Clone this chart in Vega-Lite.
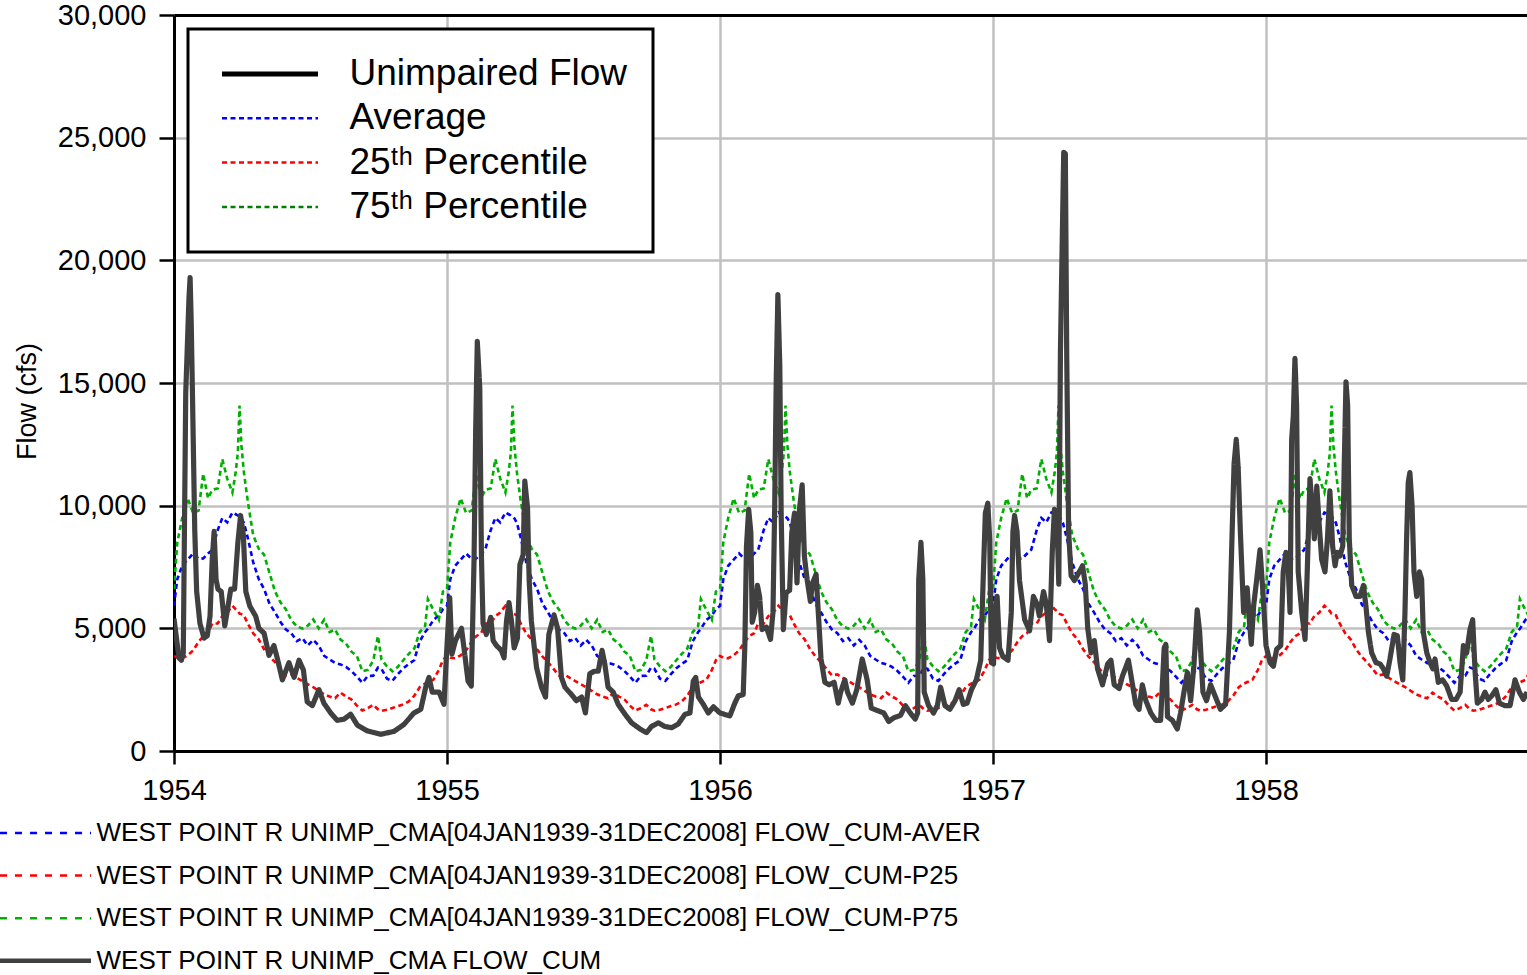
{
"$schema": "https://vega.github.io/schema/vega-lite/v6.json",
"width": 1353,
"height": 736,
"autosize": {"type": "none"},
"padding": {"left": 174, "top": 15, "right": 0, "bottom": 224},
"background": "white",
"config": {"font": "Liberation Sans", "view": {"stroke": null}},
"datasets": {
"stats": [
{"t":1954.000,"AVER":5920,"P25":3880,"P75":6600},{"t":1954.012,"AVER":7000,"P25":3800,"P75":8500},{"t":1954.030,"AVER":7550,"P25":3780,"P75":9500},{"t":1954.050,"AVER":7800,"P25":3900,"P75":10300},{"t":1954.070,"AVER":8050,"P25":4100,"P75":9700},{"t":1954.090,"AVER":7830,"P25":4450,"P75":9800},{"t":1954.107,"AVER":7850,"P25":4680,"P75":11300},{"t":1954.125,"AVER":8050,"P25":4800,"P75":10300},{"t":1954.140,"AVER":8200,"P25":5200,"P75":10650},{"t":1954.160,"AVER":9000,"P25":5200,"P75":10700},{"t":1954.177,"AVER":9500,"P25":5500,"P75":11900},{"t":1954.195,"AVER":9320,"P25":5640,"P75":11100},{"t":1954.214,"AVER":9720,"P25":5920,"P75":10540},{"t":1954.226,"AVER":9650,"P25":5780,"P75":11360},{"t":1954.234,"AVER":9600,"P25":5700,"P75":12170},{"t":1954.240,"AVER":9550,"P25":5600,"P75":14080},{"t":1954.247,"AVER":9480,"P25":5580,"P75":12440},{"t":1954.256,"AVER":9300,"P25":5530,"P75":11360},{"t":1954.270,"AVER":8700,"P25":5200,"P75":10200},{"t":1954.290,"AVER":7700,"P25":4800,"P75":8800},{"t":1954.310,"AVER":7020,"P25":4550,"P75":8250},{"t":1954.330,"AVER":6600,"P25":4150,"P75":8000},{"t":1954.350,"AVER":6000,"P25":3850,"P75":7250},{"t":1954.370,"AVER":5650,"P25":3620,"P75":6500},{"t":1954.390,"AVER":5260,"P25":3350,"P75":6060},{"t":1954.410,"AVER":4950,"P25":3080,"P75":5770},{"t":1954.430,"AVER":4800,"P25":3120,"P75":5330},{"t":1954.450,"AVER":4480,"P25":2980,"P75":5080},{"t":1954.470,"AVER":4600,"P25":2850,"P75":4990},{"t":1954.490,"AVER":4300,"P25":2720,"P75":5110},{"t":1954.510,"AVER":4530,"P25":2600,"P75":5360},{"t":1954.530,"AVER":4300,"P25":2450,"P75":5000},{"t":1954.550,"AVER":3880,"P25":2310,"P75":5350},{"t":1954.570,"AVER":3730,"P25":2220,"P75":4850},{"t":1954.590,"AVER":3590,"P25":2150,"P75":4950},{"t":1954.610,"AVER":3530,"P25":2380,"P75":4540},{"t":1954.630,"AVER":3430,"P25":2220,"P75":4380},{"t":1954.650,"AVER":3260,"P25":2100,"P75":4050},{"t":1954.670,"AVER":3030,"P25":1850,"P75":3870},{"t":1954.690,"AVER":2780,"P25":1650,"P75":3250},{"t":1954.710,"AVER":3060,"P25":1750,"P75":3310},{"t":1954.730,"AVER":3070,"P25":1880,"P75":3690},{"t":1954.747,"AVER":3400,"P25":1700,"P75":4690},{"t":1954.760,"AVER":3350,"P25":1640,"P75":3730},{"t":1954.780,"AVER":2950,"P25":1680,"P75":3450},{"t":1954.800,"AVER":2860,"P25":1750,"P75":3250},{"t":1954.820,"AVER":3130,"P25":1830,"P75":3430},{"t":1954.840,"AVER":3370,"P25":1900,"P75":3700},{"t":1954.860,"AVER":3550,"P25":2020,"P75":3960},{"t":1954.880,"AVER":3700,"P25":2250,"P75":4170},{"t":1954.900,"AVER":4470,"P25":2600,"P75":4850},{"t":1954.920,"AVER":4850,"P25":2750,"P75":5100},{"t":1954.930,"AVER":4980,"P25":2800,"P75":6190},{"t":1954.950,"AVER":5340,"P25":2900,"P75":5750},{"t":1954.970,"AVER":5520,"P25":3300,"P75":5350},{"t":1954.985,"AVER":5780,"P25":3700,"P75":6500},
{"t":1955.000,"AVER":5920,"P25":3880,"P75":6600},{"t":1955.012,"AVER":7000,"P25":3800,"P75":8500},{"t":1955.030,"AVER":7550,"P25":3780,"P75":9500},{"t":1955.050,"AVER":7800,"P25":3900,"P75":10300},{"t":1955.070,"AVER":8050,"P25":4100,"P75":9700},{"t":1955.090,"AVER":7830,"P25":4450,"P75":9800},{"t":1955.107,"AVER":7850,"P25":4680,"P75":11300},{"t":1955.125,"AVER":8050,"P25":4800,"P75":10300},{"t":1955.140,"AVER":8200,"P25":5200,"P75":10650},{"t":1955.160,"AVER":9000,"P25":5200,"P75":10700},{"t":1955.177,"AVER":9500,"P25":5500,"P75":11900},{"t":1955.195,"AVER":9320,"P25":5640,"P75":11100},{"t":1955.214,"AVER":9720,"P25":5920,"P75":10540},{"t":1955.226,"AVER":9650,"P25":5780,"P75":11360},{"t":1955.234,"AVER":9600,"P25":5700,"P75":12170},{"t":1955.240,"AVER":9550,"P25":5600,"P75":14080},{"t":1955.247,"AVER":9480,"P25":5580,"P75":12440},{"t":1955.256,"AVER":9300,"P25":5530,"P75":11360},{"t":1955.270,"AVER":8700,"P25":5200,"P75":10200},{"t":1955.290,"AVER":7700,"P25":4800,"P75":8800},{"t":1955.310,"AVER":7020,"P25":4550,"P75":8250},{"t":1955.330,"AVER":6600,"P25":4150,"P75":8000},{"t":1955.350,"AVER":6000,"P25":3850,"P75":7250},{"t":1955.370,"AVER":5650,"P25":3620,"P75":6500},{"t":1955.390,"AVER":5260,"P25":3350,"P75":6060},{"t":1955.410,"AVER":4950,"P25":3080,"P75":5770},{"t":1955.430,"AVER":4800,"P25":3120,"P75":5330},{"t":1955.450,"AVER":4480,"P25":2980,"P75":5080},{"t":1955.470,"AVER":4600,"P25":2850,"P75":4990},{"t":1955.490,"AVER":4300,"P25":2720,"P75":5110},{"t":1955.510,"AVER":4530,"P25":2600,"P75":5360},{"t":1955.530,"AVER":4300,"P25":2450,"P75":5000},{"t":1955.550,"AVER":3880,"P25":2310,"P75":5350},{"t":1955.570,"AVER":3730,"P25":2220,"P75":4850},{"t":1955.590,"AVER":3590,"P25":2150,"P75":4950},{"t":1955.610,"AVER":3530,"P25":2380,"P75":4540},{"t":1955.630,"AVER":3430,"P25":2220,"P75":4380},{"t":1955.650,"AVER":3260,"P25":2100,"P75":4050},{"t":1955.670,"AVER":3030,"P25":1850,"P75":3870},{"t":1955.690,"AVER":2780,"P25":1650,"P75":3250},{"t":1955.710,"AVER":3060,"P25":1750,"P75":3310},{"t":1955.730,"AVER":3070,"P25":1880,"P75":3690},{"t":1955.747,"AVER":3400,"P25":1700,"P75":4690},{"t":1955.760,"AVER":3350,"P25":1640,"P75":3730},{"t":1955.780,"AVER":2950,"P25":1680,"P75":3450},{"t":1955.800,"AVER":2860,"P25":1750,"P75":3250},{"t":1955.820,"AVER":3130,"P25":1830,"P75":3430},{"t":1955.840,"AVER":3370,"P25":1900,"P75":3700},{"t":1955.860,"AVER":3550,"P25":2020,"P75":3960},{"t":1955.880,"AVER":3700,"P25":2250,"P75":4170},{"t":1955.900,"AVER":4470,"P25":2600,"P75":4850},{"t":1955.920,"AVER":4850,"P25":2750,"P75":5100},{"t":1955.930,"AVER":4980,"P25":2800,"P75":6190},{"t":1955.950,"AVER":5340,"P25":2900,"P75":5750},{"t":1955.970,"AVER":5520,"P25":3300,"P75":5350},{"t":1955.985,"AVER":5780,"P25":3700,"P75":6500},
{"t":1956.000,"AVER":5920,"P25":3880,"P75":6600},{"t":1956.012,"AVER":7000,"P25":3800,"P75":8500},{"t":1956.030,"AVER":7550,"P25":3780,"P75":9500},{"t":1956.050,"AVER":7800,"P25":3900,"P75":10300},{"t":1956.070,"AVER":8050,"P25":4100,"P75":9700},{"t":1956.090,"AVER":7830,"P25":4450,"P75":9800},{"t":1956.107,"AVER":7850,"P25":4680,"P75":11300},{"t":1956.125,"AVER":8050,"P25":4800,"P75":10300},{"t":1956.140,"AVER":8200,"P25":5200,"P75":10650},{"t":1956.160,"AVER":9000,"P25":5200,"P75":10700},{"t":1956.177,"AVER":9500,"P25":5500,"P75":11900},{"t":1956.195,"AVER":9320,"P25":5640,"P75":11100},{"t":1956.214,"AVER":9720,"P25":5920,"P75":10540},{"t":1956.226,"AVER":9650,"P25":5780,"P75":11360},{"t":1956.234,"AVER":9600,"P25":5700,"P75":12170},{"t":1956.240,"AVER":9550,"P25":5600,"P75":14080},{"t":1956.247,"AVER":9480,"P25":5580,"P75":12440},{"t":1956.256,"AVER":9300,"P25":5530,"P75":11360},{"t":1956.270,"AVER":8700,"P25":5200,"P75":10200},{"t":1956.290,"AVER":7700,"P25":4800,"P75":8800},{"t":1956.310,"AVER":7020,"P25":4550,"P75":8250},{"t":1956.330,"AVER":6600,"P25":4150,"P75":8000},{"t":1956.350,"AVER":6000,"P25":3850,"P75":7250},{"t":1956.370,"AVER":5650,"P25":3620,"P75":6500},{"t":1956.390,"AVER":5260,"P25":3350,"P75":6060},{"t":1956.410,"AVER":4950,"P25":3080,"P75":5770},{"t":1956.430,"AVER":4800,"P25":3120,"P75":5330},{"t":1956.450,"AVER":4480,"P25":2980,"P75":5080},{"t":1956.470,"AVER":4600,"P25":2850,"P75":4990},{"t":1956.490,"AVER":4300,"P25":2720,"P75":5110},{"t":1956.510,"AVER":4530,"P25":2600,"P75":5360},{"t":1956.530,"AVER":4300,"P25":2450,"P75":5000},{"t":1956.550,"AVER":3880,"P25":2310,"P75":5350},{"t":1956.570,"AVER":3730,"P25":2220,"P75":4850},{"t":1956.590,"AVER":3590,"P25":2150,"P75":4950},{"t":1956.610,"AVER":3530,"P25":2380,"P75":4540},{"t":1956.630,"AVER":3430,"P25":2220,"P75":4380},{"t":1956.650,"AVER":3260,"P25":2100,"P75":4050},{"t":1956.670,"AVER":3030,"P25":1850,"P75":3870},{"t":1956.690,"AVER":2780,"P25":1650,"P75":3250},{"t":1956.710,"AVER":3060,"P25":1750,"P75":3310},{"t":1956.730,"AVER":3070,"P25":1880,"P75":3690},{"t":1956.747,"AVER":3400,"P25":1700,"P75":4690},{"t":1956.760,"AVER":3350,"P25":1640,"P75":3730},{"t":1956.780,"AVER":2950,"P25":1680,"P75":3450},{"t":1956.800,"AVER":2860,"P25":1750,"P75":3250},{"t":1956.820,"AVER":3130,"P25":1830,"P75":3430},{"t":1956.840,"AVER":3370,"P25":1900,"P75":3700},{"t":1956.860,"AVER":3550,"P25":2020,"P75":3960},{"t":1956.880,"AVER":3700,"P25":2250,"P75":4170},{"t":1956.900,"AVER":4470,"P25":2600,"P75":4850},{"t":1956.920,"AVER":4850,"P25":2750,"P75":5100},{"t":1956.930,"AVER":4980,"P25":2800,"P75":6190},{"t":1956.950,"AVER":5340,"P25":2900,"P75":5750},{"t":1956.970,"AVER":5520,"P25":3300,"P75":5350},{"t":1956.985,"AVER":5780,"P25":3700,"P75":6500},
{"t":1957.000,"AVER":5920,"P25":3880,"P75":6600},{"t":1957.012,"AVER":7000,"P25":3800,"P75":8500},{"t":1957.030,"AVER":7550,"P25":3780,"P75":9500},{"t":1957.050,"AVER":7800,"P25":3900,"P75":10300},{"t":1957.070,"AVER":8050,"P25":4100,"P75":9700},{"t":1957.090,"AVER":7830,"P25":4450,"P75":9800},{"t":1957.107,"AVER":7850,"P25":4680,"P75":11300},{"t":1957.125,"AVER":8050,"P25":4800,"P75":10300},{"t":1957.140,"AVER":8200,"P25":5200,"P75":10650},{"t":1957.160,"AVER":9000,"P25":5200,"P75":10700},{"t":1957.177,"AVER":9500,"P25":5500,"P75":11900},{"t":1957.195,"AVER":9320,"P25":5640,"P75":11100},{"t":1957.214,"AVER":9720,"P25":5920,"P75":10540},{"t":1957.226,"AVER":9650,"P25":5780,"P75":11360},{"t":1957.234,"AVER":9600,"P25":5700,"P75":12170},{"t":1957.240,"AVER":9550,"P25":5600,"P75":14080},{"t":1957.247,"AVER":9480,"P25":5580,"P75":12440},{"t":1957.256,"AVER":9300,"P25":5530,"P75":11360},{"t":1957.270,"AVER":8700,"P25":5200,"P75":10200},{"t":1957.290,"AVER":7700,"P25":4800,"P75":8800},{"t":1957.310,"AVER":7020,"P25":4550,"P75":8250},{"t":1957.330,"AVER":6600,"P25":4150,"P75":8000},{"t":1957.350,"AVER":6000,"P25":3850,"P75":7250},{"t":1957.370,"AVER":5650,"P25":3620,"P75":6500},{"t":1957.390,"AVER":5260,"P25":3350,"P75":6060},{"t":1957.410,"AVER":4950,"P25":3080,"P75":5770},{"t":1957.430,"AVER":4800,"P25":3120,"P75":5330},{"t":1957.450,"AVER":4480,"P25":2980,"P75":5080},{"t":1957.470,"AVER":4600,"P25":2850,"P75":4990},{"t":1957.490,"AVER":4300,"P25":2720,"P75":5110},{"t":1957.510,"AVER":4530,"P25":2600,"P75":5360},{"t":1957.530,"AVER":4300,"P25":2450,"P75":5000},{"t":1957.550,"AVER":3880,"P25":2310,"P75":5350},{"t":1957.570,"AVER":3730,"P25":2220,"P75":4850},{"t":1957.590,"AVER":3590,"P25":2150,"P75":4950},{"t":1957.610,"AVER":3530,"P25":2380,"P75":4540},{"t":1957.630,"AVER":3430,"P25":2220,"P75":4380},{"t":1957.650,"AVER":3260,"P25":2100,"P75":4050},{"t":1957.670,"AVER":3030,"P25":1850,"P75":3870},{"t":1957.690,"AVER":2780,"P25":1650,"P75":3250},{"t":1957.710,"AVER":3060,"P25":1750,"P75":3310},{"t":1957.730,"AVER":3070,"P25":1880,"P75":3690},{"t":1957.747,"AVER":3400,"P25":1700,"P75":4690},{"t":1957.760,"AVER":3350,"P25":1640,"P75":3730},{"t":1957.780,"AVER":2950,"P25":1680,"P75":3450},{"t":1957.800,"AVER":2860,"P25":1750,"P75":3250},{"t":1957.820,"AVER":3130,"P25":1830,"P75":3430},{"t":1957.840,"AVER":3370,"P25":1900,"P75":3700},{"t":1957.860,"AVER":3550,"P25":2020,"P75":3960},{"t":1957.880,"AVER":3700,"P25":2250,"P75":4170},{"t":1957.900,"AVER":4470,"P25":2600,"P75":4850},{"t":1957.920,"AVER":4850,"P25":2750,"P75":5100},{"t":1957.930,"AVER":4980,"P25":2800,"P75":6190},{"t":1957.950,"AVER":5340,"P25":2900,"P75":5750},{"t":1957.970,"AVER":5520,"P25":3300,"P75":5350},{"t":1957.985,"AVER":5780,"P25":3700,"P75":6500},
{"t":1958.000,"AVER":5920,"P25":3880,"P75":6600},{"t":1958.012,"AVER":7000,"P25":3800,"P75":8500},{"t":1958.030,"AVER":7550,"P25":3780,"P75":9500},{"t":1958.050,"AVER":7800,"P25":3900,"P75":10300},{"t":1958.070,"AVER":8050,"P25":4100,"P75":9700},{"t":1958.090,"AVER":7830,"P25":4450,"P75":9800},{"t":1958.107,"AVER":7850,"P25":4680,"P75":11300},{"t":1958.125,"AVER":8050,"P25":4800,"P75":10300},{"t":1958.140,"AVER":8200,"P25":5200,"P75":10650},{"t":1958.160,"AVER":9000,"P25":5200,"P75":10700},{"t":1958.177,"AVER":9500,"P25":5500,"P75":11900},{"t":1958.195,"AVER":9320,"P25":5640,"P75":11100},{"t":1958.214,"AVER":9720,"P25":5920,"P75":10540},{"t":1958.226,"AVER":9650,"P25":5780,"P75":11360},{"t":1958.234,"AVER":9600,"P25":5700,"P75":12170},{"t":1958.240,"AVER":9550,"P25":5600,"P75":14080},{"t":1958.247,"AVER":9480,"P25":5580,"P75":12440},{"t":1958.256,"AVER":9300,"P25":5530,"P75":11360},{"t":1958.270,"AVER":8700,"P25":5200,"P75":10200},{"t":1958.290,"AVER":7700,"P25":4800,"P75":8800},{"t":1958.310,"AVER":7020,"P25":4550,"P75":8250},{"t":1958.330,"AVER":6600,"P25":4150,"P75":8000},{"t":1958.350,"AVER":6000,"P25":3850,"P75":7250},{"t":1958.370,"AVER":5650,"P25":3620,"P75":6500},{"t":1958.390,"AVER":5260,"P25":3350,"P75":6060},{"t":1958.410,"AVER":4950,"P25":3080,"P75":5770},{"t":1958.430,"AVER":4800,"P25":3120,"P75":5330},{"t":1958.450,"AVER":4480,"P25":2980,"P75":5080},{"t":1958.470,"AVER":4600,"P25":2850,"P75":4990},{"t":1958.490,"AVER":4300,"P25":2720,"P75":5110},{"t":1958.510,"AVER":4530,"P25":2600,"P75":5360},{"t":1958.530,"AVER":4300,"P25":2450,"P75":5000},{"t":1958.550,"AVER":3880,"P25":2310,"P75":5350},{"t":1958.570,"AVER":3730,"P25":2220,"P75":4850},{"t":1958.590,"AVER":3590,"P25":2150,"P75":4950},{"t":1958.610,"AVER":3530,"P25":2380,"P75":4540},{"t":1958.630,"AVER":3430,"P25":2220,"P75":4380},{"t":1958.650,"AVER":3260,"P25":2100,"P75":4050},{"t":1958.670,"AVER":3030,"P25":1850,"P75":3870},{"t":1958.690,"AVER":2780,"P25":1650,"P75":3250},{"t":1958.710,"AVER":3060,"P25":1750,"P75":3310},{"t":1958.730,"AVER":3070,"P25":1880,"P75":3690},{"t":1958.747,"AVER":3400,"P25":1700,"P75":4690},{"t":1958.760,"AVER":3350,"P25":1640,"P75":3730},{"t":1958.780,"AVER":2950,"P25":1680,"P75":3450},{"t":1958.800,"AVER":2860,"P25":1750,"P75":3250},{"t":1958.820,"AVER":3130,"P25":1830,"P75":3430},{"t":1958.840,"AVER":3370,"P25":1900,"P75":3700},{"t":1958.860,"AVER":3550,"P25":2020,"P75":3960},{"t":1958.880,"AVER":3700,"P25":2250,"P75":4170},{"t":1958.900,"AVER":4470,"P25":2600,"P75":4850},{"t":1958.920,"AVER":4850,"P25":2750,"P75":5100},{"t":1958.930,"AVER":4980,"P25":2800,"P75":6190},{"t":1958.950,"AVER":5340,"P25":2900,"P75":5750},{"t":1958.970,"AVER":5520,"P25":3300,"P75":5350}
],
"flow": [
{"t":1954.000,"FLOW":5400},{"t":1954.018,"FLOW":3800},{"t":1954.027,"FLOW":3700},{"t":1954.034,"FLOW":4000},{"t":1954.043,"FLOW":14600},{"t":1954.055,"FLOW":18500},{"t":1954.059,"FLOW":19300},{"t":1954.063,"FLOW":17500},{"t":1954.068,"FLOW":14300},{"t":1954.076,"FLOW":9000},{"t":1954.083,"FLOW":6500},{"t":1954.095,"FLOW":5200},{"t":1954.110,"FLOW":4600},{"t":1954.122,"FLOW":4700},{"t":1954.132,"FLOW":5500},{"t":1954.140,"FLOW":7800},{"t":1954.147,"FLOW":8950},{"t":1954.154,"FLOW":7000},{"t":1954.161,"FLOW":6600},{"t":1954.173,"FLOW":6500},{"t":1954.186,"FLOW":5100},{"t":1954.195,"FLOW":5700},{"t":1954.208,"FLOW":6600},{"t":1954.222,"FLOW":6600},{"t":1954.234,"FLOW":8500},{"t":1954.244,"FLOW":9600},{"t":1954.254,"FLOW":8800},{"t":1954.263,"FLOW":6500},{"t":1954.278,"FLOW":5900},{"t":1954.299,"FLOW":5500},{"t":1954.311,"FLOW":5000},{"t":1954.330,"FLOW":4800},{"t":1954.348,"FLOW":3900},{"t":1954.366,"FLOW":4300},{"t":1954.379,"FLOW":3750},{"t":1954.397,"FLOW":2900},{"t":1954.421,"FLOW":3600},{"t":1954.440,"FLOW":3000},{"t":1954.458,"FLOW":3700},{"t":1954.474,"FLOW":3300},{"t":1954.488,"FLOW":2000},{"t":1954.507,"FLOW":1850},{"t":1954.531,"FLOW":2500},{"t":1954.549,"FLOW":1950},{"t":1954.574,"FLOW":1550},{"t":1954.598,"FLOW":1250},{"t":1954.623,"FLOW":1300},{"t":1954.647,"FLOW":1500},{"t":1954.672,"FLOW":1050},{"t":1954.708,"FLOW":820},{"t":1954.757,"FLOW":680},{"t":1954.806,"FLOW":800},{"t":1954.842,"FLOW":1080},{"t":1954.879,"FLOW":1550},{"t":1954.904,"FLOW":1700},{"t":1954.922,"FLOW":2600},{"t":1954.934,"FLOW":3000},{"t":1954.946,"FLOW":2400},{"t":1954.971,"FLOW":2400},{"t":1954.989,"FLOW":1900},
{"t":1954.998,"FLOW":3900},{"t":1955.010,"FLOW":6250},{"t":1955.018,"FLOW":3950},{"t":1955.031,"FLOW":4500},{"t":1955.053,"FLOW":5000},{"t":1955.065,"FLOW":3950},{"t":1955.077,"FLOW":2850},{"t":1955.089,"FLOW":2650},{"t":1955.099,"FLOW":7750},{"t":1955.105,"FLOW":13050},{"t":1955.111,"FLOW":16700},{"t":1955.120,"FLOW":14800},{"t":1955.126,"FLOW":8000},{"t":1955.132,"FLOW":5200},{"t":1955.144,"FLOW":4750},{"t":1955.160,"FLOW":5450},{"t":1955.169,"FLOW":4500},{"t":1955.181,"FLOW":4300},{"t":1955.199,"FLOW":4100},{"t":1955.209,"FLOW":3800},{"t":1955.218,"FLOW":5300},{"t":1955.227,"FLOW":6050},{"t":1955.236,"FLOW":5300},{"t":1955.246,"FLOW":4200},{"t":1955.258,"FLOW":4600},{"t":1955.267,"FLOW":7600},{"t":1955.279,"FLOW":8000},{"t":1955.285,"FLOW":11000},{"t":1955.295,"FLOW":9900},{"t":1955.301,"FLOW":6950},{"t":1955.309,"FLOW":5300},{"t":1955.328,"FLOW":3400},{"t":1955.346,"FLOW":2600},{"t":1955.361,"FLOW":2200},{"t":1955.373,"FLOW":4750},{"t":1955.392,"FLOW":5550},{"t":1955.405,"FLOW":5000},{"t":1955.419,"FLOW":3000},{"t":1955.432,"FLOW":2600},{"t":1955.456,"FLOW":2300},{"t":1955.474,"FLOW":2050},{"t":1955.493,"FLOW":2200},{"t":1955.507,"FLOW":1550},{"t":1955.523,"FLOW":3150},{"t":1955.539,"FLOW":3250},{"t":1955.554,"FLOW":3250},{"t":1955.568,"FLOW":4100},{"t":1955.578,"FLOW":3550},{"t":1955.590,"FLOW":2600},{"t":1955.609,"FLOW":2400},{"t":1955.627,"FLOW":1900},{"t":1955.652,"FLOW":1500},{"t":1955.676,"FLOW":1150},{"t":1955.707,"FLOW":900},{"t":1955.731,"FLOW":750},{"t":1955.749,"FLOW":1000},{"t":1955.774,"FLOW":1150},{"t":1955.798,"FLOW":1000},{"t":1955.823,"FLOW":950},{"t":1955.847,"FLOW":1100},{"t":1955.872,"FLOW":1500},{"t":1955.890,"FLOW":1550},{"t":1955.902,"FLOW":2850},{"t":1955.911,"FLOW":3000},{"t":1955.921,"FLOW":2200},{"t":1955.939,"FLOW":1900},{"t":1955.957,"FLOW":1550},{"t":1955.976,"FLOW":1800},{"t":1956.000,"FLOW":1550},
{"t":1956.036,"FLOW":1430},{"t":1956.055,"FLOW":1970},{"t":1956.067,"FLOW":2250},{"t":1956.085,"FLOW":2300},{"t":1956.091,"FLOW":4300},{"t":1956.097,"FLOW":8350},{"t":1956.105,"FLOW":9850},{"t":1956.113,"FLOW":8900},{"t":1956.118,"FLOW":5250},{"t":1956.127,"FLOW":5650},{"t":1956.137,"FLOW":6750},{"t":1956.145,"FLOW":6300},{"t":1956.154,"FLOW":4950},{"t":1956.170,"FLOW":5050},{"t":1956.185,"FLOW":4550},{"t":1956.194,"FLOW":5650},{"t":1956.200,"FLOW":9700},{"t":1956.206,"FLOW":15150},{"t":1956.212,"FLOW":18600},{"t":1956.219,"FLOW":15700},{"t":1956.224,"FLOW":9700},{"t":1956.232,"FLOW":4950},{"t":1956.242,"FLOW":6450},{"t":1956.255,"FLOW":6550},{"t":1956.263,"FLOW":8900},{"t":1956.273,"FLOW":9700},{"t":1956.282,"FLOW":6850},{"t":1956.291,"FLOW":9850},{"t":1956.301,"FLOW":10850},{"t":1956.309,"FLOW":7950},{"t":1956.319,"FLOW":7000},{"t":1956.331,"FLOW":6100},{"t":1956.339,"FLOW":6850},{"t":1956.352,"FLOW":7200},{"t":1956.360,"FLOW":5650},{"t":1956.370,"FLOW":3750},{"t":1956.384,"FLOW":2800},{"t":1956.400,"FLOW":2700},{"t":1956.418,"FLOW":2800},{"t":1956.433,"FLOW":1950},{"t":1956.442,"FLOW":2400},{"t":1956.457,"FLOW":2900},{"t":1956.467,"FLOW":2400},{"t":1956.485,"FLOW":1950},{"t":1956.501,"FLOW":2500},{"t":1956.521,"FLOW":3750},{"t":1956.539,"FLOW":2900},{"t":1956.554,"FLOW":1750},{"t":1956.576,"FLOW":1650},{"t":1956.600,"FLOW":1550},{"t":1956.618,"FLOW":1200},{"t":1956.636,"FLOW":1350},{"t":1956.661,"FLOW":1450},{"t":1956.679,"FLOW":1850},{"t":1956.697,"FLOW":1550},{"t":1956.715,"FLOW":1300},{"t":1956.724,"FLOW":1550},{"t":1956.728,"FLOW":7000},{"t":1956.736,"FLOW":8500},{"t":1956.743,"FLOW":7000},{"t":1956.748,"FLOW":2400},{"t":1956.764,"FLOW":1850},{"t":1956.782,"FLOW":1550},{"t":1956.796,"FLOW":1850},{"t":1956.808,"FLOW":2600},{"t":1956.824,"FLOW":1850},{"t":1956.842,"FLOW":1700},{"t":1956.861,"FLOW":2050},{"t":1956.876,"FLOW":2500},{"t":1956.891,"FLOW":1900},{"t":1956.905,"FLOW":1950},{"t":1956.921,"FLOW":2500},{"t":1956.939,"FLOW":2900},{"t":1956.955,"FLOW":3700},{"t":1956.964,"FLOW":7000},{"t":1956.972,"FLOW":9700},{"t":1956.981,"FLOW":10100},{"t":1956.988,"FLOW":8600},{"t":1956.994,"FLOW":3600},{"t":1957.002,"FLOW":3550},{"t":1957.006,"FLOW":5650},{"t":1957.015,"FLOW":6300},{"t":1957.024,"FLOW":4200},{"t":1957.036,"FLOW":3850},{"t":1957.055,"FLOW":3700},{"t":1957.067,"FLOW":5650},{"t":1957.073,"FLOW":8950},{"t":1957.079,"FLOW":9600},{"t":1957.088,"FLOW":8950},{"t":1957.097,"FLOW":6950},{"t":1957.116,"FLOW":5350},{"t":1957.134,"FLOW":4900},{"t":1957.148,"FLOW":6300},{"t":1957.161,"FLOW":6000},{"t":1957.170,"FLOW":5500},{"t":1957.185,"FLOW":6500},{"t":1957.195,"FLOW":6000},{"t":1957.207,"FLOW":4500},{"t":1957.217,"FLOW":8100},{"t":1957.225,"FLOW":9850},{"t":1957.234,"FLOW":9600},{"t":1957.241,"FLOW":6800},{"t":1957.247,"FLOW":16300},{"t":1957.253,"FLOW":20400},{"t":1957.259,"FLOW":24400},{"t":1957.265,"FLOW":24350},{"t":1957.270,"FLOW":16150},{"t":1957.277,"FLOW":8950},{"t":1957.286,"FLOW":7150},{"t":1957.298,"FLOW":6950},{"t":1957.316,"FLOW":7300},{"t":1957.328,"FLOW":7550},{"t":1957.338,"FLOW":6800},{"t":1957.347,"FLOW":5000},{"t":1957.359,"FLOW":4000},{"t":1957.371,"FLOW":4500},{"t":1957.383,"FLOW":3350},{"t":1957.401,"FLOW":2700},{"t":1957.420,"FLOW":3550},{"t":1957.432,"FLOW":3700},{"t":1957.444,"FLOW":2700},{"t":1957.462,"FLOW":2550},{"t":1957.474,"FLOW":3050},{"t":1957.496,"FLOW":3700},{"t":1957.511,"FLOW":2700},{"t":1957.523,"FLOW":1900},{"t":1957.535,"FLOW":1700},{"t":1957.547,"FLOW":2700},{"t":1957.560,"FLOW":2050},{"t":1957.578,"FLOW":1550},{"t":1957.596,"FLOW":1250},{"t":1957.614,"FLOW":1250},{"t":1957.627,"FLOW":4200},{"t":1957.633,"FLOW":4350},{"t":1957.639,"FLOW":1400},{"t":1957.657,"FLOW":1250},{"t":1957.675,"FLOW":900},{"t":1957.687,"FLOW":1550},{"t":1957.706,"FLOW":2850},{"t":1957.712,"FLOW":3200},{"t":1957.724,"FLOW":2050},{"t":1957.736,"FLOW":3500},{"t":1957.748,"FLOW":5750},{"t":1957.757,"FLOW":4850},{"t":1957.769,"FLOW":2400},{"t":1957.782,"FLOW":2050},{"t":1957.797,"FLOW":2700},{"t":1957.815,"FLOW":2200},{"t":1957.833,"FLOW":1700},{"t":1957.852,"FLOW":1900},{"t":1957.866,"FLOW":4850},{"t":1957.876,"FLOW":8950},{"t":1957.883,"FLOW":11700},{"t":1957.891,"FLOW":12700},{"t":1957.898,"FLOW":11550},{"t":1957.906,"FLOW":8950},{"t":1957.918,"FLOW":5650},{"t":1957.931,"FLOW":6650},{"t":1957.939,"FLOW":5300},{"t":1957.946,"FLOW":4350},{"t":1957.955,"FLOW":5950},{"t":1957.966,"FLOW":7000},{"t":1957.978,"FLOW":8200},{"t":1957.988,"FLOW":6600},
{"t":1958.000,"FLOW":4300},{"t":1958.015,"FLOW":3600},{"t":1958.027,"FLOW":3450},{"t":1958.039,"FLOW":4150},{"t":1958.054,"FLOW":4300},{"t":1958.063,"FLOW":7300},{"t":1958.073,"FLOW":8100},{"t":1958.082,"FLOW":7300},{"t":1958.088,"FLOW":5650},{"t":1958.094,"FLOW":12700},{"t":1958.100,"FLOW":13650},{"t":1958.106,"FLOW":16000},{"t":1958.112,"FLOW":14100},{"t":1958.118,"FLOW":7300},{"t":1958.131,"FLOW":5650},{"t":1958.143,"FLOW":4550},{"t":1958.151,"FLOW":7300},{"t":1958.161,"FLOW":11100},{"t":1958.171,"FLOW":9700},{"t":1958.177,"FLOW":8650},{"t":1958.186,"FLOW":10800},{"t":1958.195,"FLOW":9200},{"t":1958.204,"FLOW":7800},{"t":1958.216,"FLOW":7300},{"t":1958.225,"FLOW":8650},{"t":1958.234,"FLOW":10600},{"t":1958.244,"FLOW":8350},{"t":1958.253,"FLOW":7550},{"t":1958.261,"FLOW":8100},{"t":1958.271,"FLOW":7950},{"t":1958.281,"FLOW":8350},{"t":1958.286,"FLOW":11350},{"t":1958.293,"FLOW":15050},{"t":1958.299,"FLOW":14100},{"t":1958.305,"FLOW":8650},{"t":1958.314,"FLOW":6750},{"t":1958.330,"FLOW":6300},{"t":1958.344,"FLOW":6300},{"t":1958.357,"FLOW":6750},{"t":1958.366,"FLOW":5900},{"t":1958.375,"FLOW":4850},{"t":1958.387,"FLOW":4000},{"t":1958.403,"FLOW":3600},{"t":1958.418,"FLOW":3550},{"t":1958.430,"FLOW":3350},{"t":1958.442,"FLOW":3050},{"t":1958.454,"FLOW":3750},{"t":1958.469,"FLOW":4750},{"t":1958.481,"FLOW":4700},{"t":1958.491,"FLOW":3600},{"t":1958.501,"FLOW":2900},{"t":1958.509,"FLOW":5650},{"t":1958.515,"FLOW":8650},{"t":1958.521,"FLOW":10950},{"t":1958.527,"FLOW":11350},{"t":1958.535,"FLOW":10000},{"t":1958.542,"FLOW":7300},{"t":1958.552,"FLOW":6300},{"t":1958.562,"FLOW":7300},{"t":1958.570,"FLOW":7000},{"t":1958.576,"FLOW":4850},{"t":1958.589,"FLOW":4000},{"t":1958.601,"FLOW":3600},{"t":1958.611,"FLOW":3350},{"t":1958.619,"FLOW":3750},{"t":1958.631,"FLOW":2800},{"t":1958.647,"FLOW":2900},{"t":1958.662,"FLOW":2650},{"t":1958.680,"FLOW":2100},{"t":1958.696,"FLOW":2100},{"t":1958.711,"FLOW":2400},{"t":1958.723,"FLOW":4300},{"t":1958.735,"FLOW":4000},{"t":1958.747,"FLOW":4950},{"t":1958.757,"FLOW":5350},{"t":1958.766,"FLOW":3200},{"t":1958.774,"FLOW":1950},{"t":1958.790,"FLOW":2100},{"t":1958.802,"FLOW":2400},{"t":1958.814,"FLOW":2100},{"t":1958.827,"FLOW":2250},{"t":1958.842,"FLOW":2500},{"t":1958.855,"FLOW":1950},{"t":1958.875,"FLOW":1850},{"t":1958.894,"FLOW":1850},{"t":1958.912,"FLOW":2900},{"t":1958.928,"FLOW":2400},{"t":1958.943,"FLOW":2100},{"t":1958.956,"FLOW":2400}
]
},
"encoding": {
  "color": {
    "field": "series", "type": "nominal",
    "scale": {"domain": ["AVER", "P25", "P75", "FLOW"], "range": ["#0000ff", "#ff0000", "#00b000", "#404040"]},
    "legend": {
      "orient": "none", "legendX": -174, "legendY": 801, "padding": 0, "title": null,
      "symbolType": "stroke", "symbolSize": 8281, "symbolOffset": -1.5, "labelOffset": 4, "clipHeight": 34, "rowPadding": 8.6,
      "labelFontSize": 26, "labelColor": "black", "labelLimit": 2000,
      "labelExpr": "datum.value === 'FLOW' ? 'WEST POINT R UNIMP_CMA FLOW_CUM' : 'WEST POINT R UNIMP_CMA[04JAN1939-31DEC2008] FLOW_CUM-' + datum.value",
      "encode": {"symbols": {"update": {
        "strokeWidth": {"signal": "(datum.value === 'FLOW' ? 4.5 : 2.5)"},
        "strokeDash": {"signal": "(datum.value === 'FLOW' ? [1, 0] : [7, 8])"}
      }}}
    }
  },
  "strokeDash": {
    "field": "series", "type": "nominal",
    "scale": {"domain": ["FLOW", "AVER", "P25", "P75"], "range": [[1, 0], [5, 3.5], [5, 3.5], [5, 3.5]]},
    "legend": {
      "orient": "top-left", "offset": 14, "padding": 25, "title": null,
      "symbolType": "stroke", "symbolSize": 9216, "symbolOffset": 7.5, "labelOffset": 30, "clipHeight": 40, "rowPadding": 4.3,
      "labelFontSize": 37, "labelColor": "black", "labelLimit": 2000,
      "strokeColor": "black", "fillColor": "white",
      "labelExpr": "datum.value === 'FLOW' ? 'Unimpaired Flow' : datum.value === 'AVER' ? 'Average' : datum.value === 'P25' ? '25\u1d57\u02b0 Percentile' : '75\u1d57\u02b0 Percentile'",
      "encode": {
        "legend": {"update": {"strokeWidth": {"value": 3}}},
        "symbols": {"update": {
          "stroke": {"signal": "(datum.value === 'FLOW' ? 'black' : datum.value === 'AVER' ? '#0000ff' : datum.value === 'P25' ? '#ff0000' : '#008000')"},
          "strokeWidth": {"signal": "(datum.value === 'FLOW' ? 5 : 2.5)"},
          "strokeDash": {"signal": "(datum.value === 'FLOW' ? [1, 0] : [9, 7])"}
        }}
      }
    }
  }
},
"layer": [
  {
    "data": {"name": "stats"},
    "transform": [{"fold": ["AVER", "P25", "P75"], "as": ["series", "flow"]}],
    "mark": {"type": "line", "strokeWidth": 2.6, "clip": true},
    "encoding": {
      "x": {"field": "t", "type": "quantitative", "scale": {"domain": [1954, 1958.956], "nice": false, "zero": false},
            "axis": {"orient": "top", "labels": false, "ticks": false, "grid": false, "domain": true, "domainColor": "black", "domainWidth": 3, "title": null}},
      "y": {"field": "flow", "type": "quantitative", "scale": {"domain": [0, 30000], "nice": false},
            "axis": {"orient": "left", "values": [0, 5000, 10000, 15000, 20000, 25000, 30000], "format": ",.0f",
                     "title": "Flow (cfs)", "titleFontSize": 27, "titleFontWeight": "normal", "titleColor": "black",
                     "titleX": -147, "titleY": 386, "titleAngle": -90, "titleBaseline": "middle", "titleAlign": "center",
                     "grid": true, "gridColor": "#c0c0c0", "gridWidth": 2.5,
                     "domainColor": "black", "domainWidth": 3, "tickColor": "black", "tickWidth": 2.5, "tickSize": 15,
                     "labelPadding": 13, "labelFontSize": 29, "labelColor": "black", "labelFlush": false, "labelOverlap": false}}
    }
  },
  {
    "data": {"name": "flow"},
    "transform": [{"fold": ["FLOW"], "as": ["series", "flow"]}],
    "mark": {"type": "line", "strokeWidth": 5.2, "clip": true, "strokeJoin": "round"},
    "encoding": {
      "x": {"field": "t", "type": "quantitative", "scale": {"domain": [1954, 1958.956], "nice": false, "zero": false},
            "axis": {"orient": "bottom", "values": [1954, 1955, 1956, 1957, 1958], "format": "d", "title": null,
                     "grid": true, "gridColor": "#c0c0c0", "gridWidth": 2.5,
                     "domainColor": "black", "domainWidth": 3, "tickColor": "black", "tickWidth": 2.5, "tickSize": 13,
                     "labelPadding": 12, "labelFontSize": 29, "labelColor": "black", "labelFlush": false, "labelOverlap": false}},
      "y": {"field": "flow", "type": "quantitative", "scale": {"domain": [0, 30000], "nice": false},
            "axis": {"orient": "left", "values": [0, 5000, 10000, 15000, 20000, 25000, 30000], "format": ",.0f",
                     "title": "Flow (cfs)", "titleFontSize": 27, "titleFontWeight": "normal", "titleColor": "black",
                     "titleX": -147, "titleY": 386, "titleAngle": -90, "titleBaseline": "middle", "titleAlign": "center",
                     "grid": true, "gridColor": "#c0c0c0", "gridWidth": 2.5,
                     "domainColor": "black", "domainWidth": 3, "tickColor": "black", "tickWidth": 2.5, "tickSize": 15,
                     "labelPadding": 13, "labelFontSize": 29, "labelColor": "black", "labelFlush": false, "labelOverlap": false}}
    }
  }
]
}
